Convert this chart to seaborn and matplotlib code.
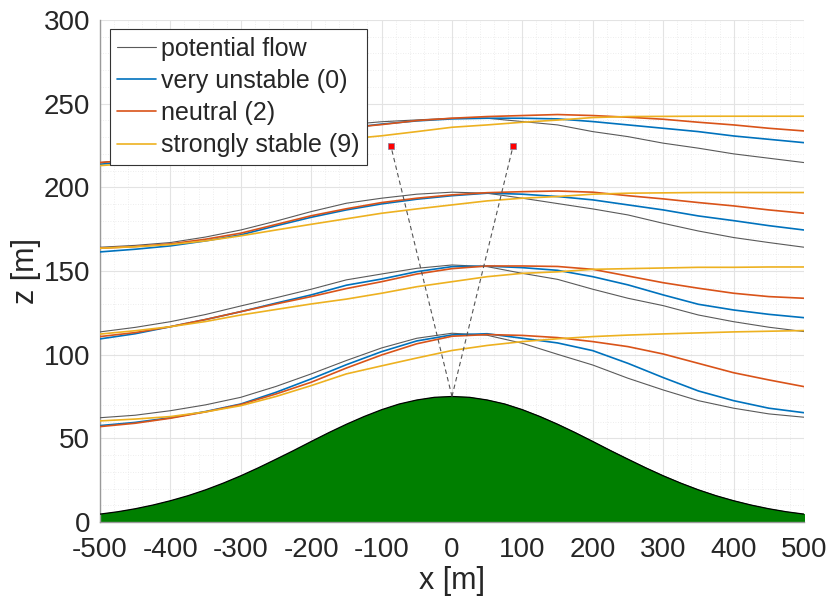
import numpy as np
import pandas as pd
import seaborn as sns
import matplotlib.pyplot as plt
from matplotlib.lines import Line2D

# ---- data ----
hill_x = list(range(-500, 501, 25))
hill_z = [4.7, 6.1, 7.9, 10.1, 12.7, 15.7, 19.2, 23.2, 27.6, 32.4, 37.5,
          42.7, 48.1, 53.4, 58.4, 63.0, 67.1, 70.5, 72.9, 74.5, 75.0,
          74.5, 72.9, 70.5, 67.1, 63.0, 58.4, 53.4, 48.1, 42.7, 37.5,
          32.4, 27.6, 23.2, 19.2, 15.7, 12.7, 10.1, 7.9, 6.1, 4.7]

sl_x = list(range(-500, 501, 50))

# streamlines, potential flow
pot_1 = [62.3, 63.8, 66.5, 70.0, 74.5, 81.0, 88.5, 96.5, 104.0, 109.8, 112.8,
         111.6, 106.8, 100.2, 93.8, 85.9, 78.9, 72.5, 68.0, 64.6, 62.6]
pot_2 = [113.6, 116.3, 119.7, 124.0, 129.1, 134.0, 139.1, 144.7, 148.2, 151.6, 153.6,
         152.6, 148.6, 145.0, 139.1, 133.7, 129.3, 123.7, 119.7, 116.4, 113.8]
pot_3 = [164.2, 165.3, 167.0, 170.3, 174.5, 179.8, 185.5, 190.5, 193.5, 195.9, 197.1,
         196.5, 193.5, 190.3, 187.1, 183.5, 178.5, 173.9, 170.0, 167.0, 164.2]
pot_4 = [214.8, 217.0, 219.8, 223.0, 227.0, 231.0, 234.5, 237.4, 239.2, 240.3, 241.3,
         241.3, 239.3, 237.3, 233.3, 230.3, 226.4, 223.4, 220.0, 217.4, 214.8]

# very unstable (0)
uns_1 = [57.6, 59.5, 62.3, 66.0, 70.5, 77.5, 85.5, 94.0, 101.8, 108.2, 111.8,
         112.5, 109.8, 107.0, 102.4, 94.8, 86.3, 78.3, 72.5, 68.0, 65.3]
uns_2 = [109.4, 112.5, 116.7, 121.0, 125.7, 130.8, 135.7, 141.5, 145.2, 149.6, 152.6,
         152.9, 152.0, 150.4, 146.6, 141.7, 135.7, 130.1, 126.7, 124.1, 122.1]
uns_3 = [161.4, 163.0, 165.0, 168.0, 171.6, 177.0, 182.1, 186.5, 190.1, 192.9, 195.0,
         196.5, 195.9, 194.5, 192.5, 189.5, 186.5, 182.9, 180.1, 177.1, 174.5]
uns_4 = [213.8, 215.8, 218.5, 221.8, 225.5, 229.3, 232.6, 235.3, 237.8, 239.7, 240.9,
         241.3, 241.3, 240.9, 239.3, 237.3, 235.3, 233.3, 230.7, 228.7, 226.7]

# neutral (2)
neu_1 = [57.0, 59.0, 62.0, 65.8, 70.2, 76.5, 83.5, 92.0, 99.8, 106.5, 111.0,
         112.0, 111.5, 110.2, 107.8, 104.8, 100.4, 94.8, 89.2, 84.9, 80.9]
neu_2 = [110.8, 113.2, 116.7, 121.0, 125.7, 130.3, 134.7, 139.5, 143.6, 148.2, 151.4,
         153.0, 153.0, 152.7, 151.0, 147.0, 143.0, 139.7, 136.7, 134.7, 133.7]
neu_3 = [163.6, 164.6, 166.2, 169.0, 172.6, 177.8, 183.0, 187.2, 190.9, 193.5, 195.5,
         196.8, 197.4, 197.8, 197.1, 195.0, 193.1, 190.9, 188.9, 186.5, 184.5]
neu_4 = [214.8, 216.5, 219.0, 222.3, 226.0, 229.8, 233.0, 235.5, 237.5, 239.9, 241.3,
         242.3, 242.9, 243.5, 242.9, 241.9, 240.7, 238.9, 237.3, 235.3, 233.7]

# strongly stable (9)
sta_1 = [60.4, 61.5, 63.0, 65.8, 69.5, 75.0, 81.5, 88.5, 93.3, 98.0, 102.5,
         105.5, 107.8, 109.5, 110.8, 111.7, 112.4, 113.0, 113.6, 114.0, 114.4]
sta_2 = [112.3, 114.3, 116.7, 119.8, 123.7, 127.0, 130.3, 133.2, 136.7, 140.6, 143.6,
         146.6, 148.6, 149.5, 151.0, 151.4, 151.8, 152.2, 152.2, 152.4, 152.4]
sta_3 = [163.6, 164.5, 165.8, 168.0, 171.0, 174.5, 177.9, 181.2, 184.5, 187.1, 189.5,
         191.9, 193.5, 194.5, 195.9, 196.5, 196.7, 196.9, 196.9, 196.9, 196.9]
sta_4 = [213.0, 214.3, 216.2, 218.5, 221.0, 223.8, 226.5, 228.8, 230.8, 233.3, 235.9,
         237.3, 238.9, 240.2, 241.7, 242.3, 242.4, 242.5, 242.5, 242.5, 242.5]

cases = ["potential flow", "very unstable (0)", "neutral (2)", "strongly stable (9)"]
series = {
    "potential flow": [pot_1, pot_2, pot_3, pot_4],
    "very unstable (0)": [uns_1, uns_2, uns_3, uns_4],
    "neutral (2)": [neu_1, neu_2, neu_3, neu_4],
    "strongly stable (9)": [sta_1, sta_2, sta_3, sta_4],
}
colors = {"potential flow": "#5a5a5a", "very unstable (0)": "#0072BD",
          "neutral (2)": "#D95319", "strongly stable (9)": "#EDB120"}
widths = {"potential flow": 0.8, "very unstable (0)": 1.2,
          "neutral (2)": 1.2, "strongly stable (9)": 1.2}

# sensor positions and the hill top they are seen from
top_x, top_z = 0, 75
mast_x = [-87, 87]
mast_z = [225, 225]

# long table for seaborn
rows = []
for c in cases:
    for lev, zs in enumerate(series[c]):
        for xv, zv in zip(sl_x, zs):
            rows.append((c, lev, xv, zv))
df = pd.DataFrame(rows, columns=["case", "level", "x", "z"])

sns.set_style("white")
plt.rcParams['font.family'] = ['Liberation Sans', 'DejaVu Sans']
plt.rcParams['axes.unicode_minus'] = False

fig = plt.figure(figsize=(8.31, 6.10), dpi=100)
ax = fig.add_axes([0.1203, 0.1443, 0.8472, 0.8229])

# hill
ax.fill_between(hill_x, 0, hill_z, color="#007F00", zorder=2)
sns.lineplot(x=hill_x, y=hill_z, color="black", lw=0.9, ax=ax, zorder=3)

for c in cases:
    sns.lineplot(data=df[df.case == c], x="x", y="z", units="level",
                 estimator=None, sort=False, color=colors[c], lw=widths[c],
                 legend=False, ax=ax, zorder=4)

# dashed sight lines + markers
for mx, mz in zip(mast_x, mast_z):
    ax.plot([top_x, mx], [top_z, mz], ls=(0, (4, 3)), color="#555555", lw=0.8, zorder=5)
sns.scatterplot(x=mast_x, y=mast_z, marker="s", s=22, color="red",
                edgecolor="#8080a0", linewidth=0.5, ax=ax, zorder=6)

ax.set_xlim(-500, 500)
ax.set_ylim(0, 300)
ax.set_xticks(range(-500, 501, 100))
ax.set_yticks(range(0, 301, 50))
ax.set_xticks(range(-500, 501, 20), minor=True)
ax.set_yticks(range(0, 301, 10), minor=True)
ax.grid(which="major", color="#e3e3e3", lw=0.8)
ax.grid(which="minor", color="#e8e8e8", lw=0.6, ls=(0, (1, 2)))
ax.set_axisbelow(True)
ax.tick_params(which="major", direction="in", length=4, labelsize=20,
               colors="#262626")
ax.tick_params(axis="x", pad=11)
ax.tick_params(axis="y", pad=7)
ax.tick_params(which="minor", length=0)
for s in ["top", "right"]:
    ax.spines[s].set_visible(False)
for s in ["left", "bottom"]:
    ax.spines[s].set_color("#9a9a9a")
    ax.spines[s].set_linewidth(1.0)

ax.set_xlabel("x [m]", fontsize=22, color="#262626", labelpad=2)
ax.set_ylabel("z [m]", fontsize=22, color="#262626", labelpad=2)

handles = [Line2D([], [], color=colors[c], lw=widths[c]) for c in cases]
leg = ax.legend(handles, cases, loc="upper left", bbox_to_anchor=(0.014, 0.982),
                borderaxespad=0, fontsize=18, frameon=True, fancybox=False,
                handlelength=1.55, handletextpad=0.2, labelspacing=0.33,
                borderpad=0.3, framealpha=1)
leg.get_frame().set_edgecolor("#333333")
leg.get_frame().set_linewidth(0.8)
leg.set_zorder(10)

fig.savefig("out.png", dpi=100)
